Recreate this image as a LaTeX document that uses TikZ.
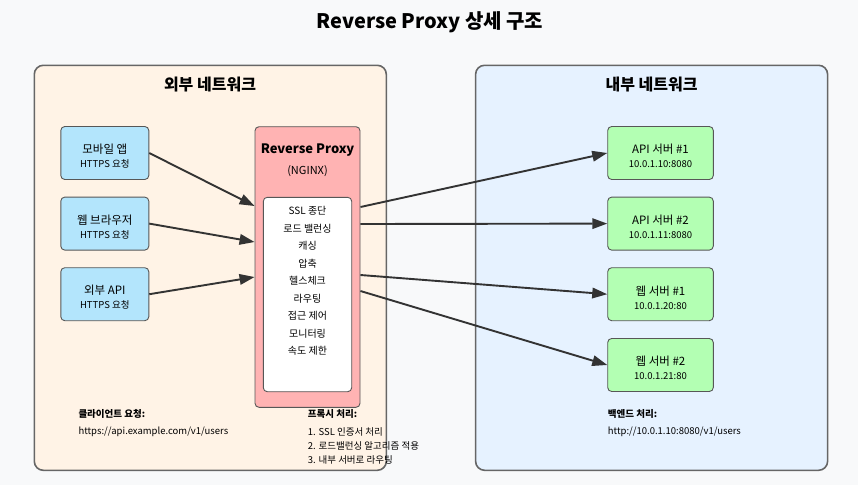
\documentclass[tikz,border=0pt]{standalone}
\usepackage{fontspec}
\setmainfont{Noto Sans CJK KR}
\usetikzlibrary{arrows.meta}
\definecolor{bgc}{HTML}{F8F9FA}
\definecolor{extc}{HTML}{FFF3E6}
\definecolor{intc}{HTML}{E6F2FF}
\definecolor{cliec}{HTML}{B3E5FC}
\definecolor{proxc}{HTML}{FFB3B3}
\definecolor{servc}{HTML}{B3FFB3}
\definecolor{edgec}{HTML}{666666}
\definecolor{arrc}{HTML}{333333}

\begin{document}
\begin{tikzpicture}[x=1pt,y=-1pt,
  zone/.style={draw=edgec,line width=1.6pt,rounded corners=9pt,minimum width=352pt,minimum height=405pt,inner sep=0pt},
  box/.style={draw=edgec!85!black,line width=0.9pt,rounded corners=4pt,minimum width=88pt,minimum height=53pt,align=center,inner sep=0pt,text height=30pt,font=\fontsize{11.5}{14}\selectfont},
  arr/.style={draw=arrc,line width=1.9pt,-{Triangle[length=15pt,width=10.5pt]}},
  note/.style={anchor=west,inner sep=0pt,font=\fontsize{9.5}{11}\selectfont}]
\useasboundingbox[fill=bgc] (0,0) rectangle (858,485);

\node[font=\fontsize{20}{24}\selectfont\bfseries] (title) at (430,22) {Reverse Proxy 상세 구조};

\node[zone,fill=extc] (ext) at (210.3,267.8) {};
\node[zone,fill=intc] (int) at (651.6,267.8) {};
\node[font=\fontsize{16}{19}\selectfont\bfseries] (exth) at (210,85) {외부 네트워크};
\node[font=\fontsize{16}{19}\selectfont\bfseries] (inth) at (651.6,85) {내부 네트워크};

\node[box,fill=cliec] (c1) at (104.8,153) {모바일 앱\\{\fontsize{9.5}{11}\selectfont HTTPS 요청}};
\node[box,fill=cliec] (c2) at (104.8,223.6) {웹 브라우저\\{\fontsize{9.5}{11}\selectfont HTTPS 요청}};
\node[box,fill=cliec] (c3) at (104.8,294.2) {외부 API\\{\fontsize{9.5}{11}\selectfont HTTPS 요청}};

\node[draw=edgec!85!black,line width=0.9pt,rounded corners=4pt,fill=proxc,minimum width=105pt,minimum height=280.6pt] (proxy) at (307.5,267) {};
\node[font=\fontsize{13}{15}\selectfont\bfseries] (ptitle) at (307.5,149.8) {Reverse Proxy};
\node[font=\fontsize{11}{13}\selectfont] (pname) at (307.5,171.5) {(NGINX)};
\node[draw=edgec!85!black,line width=0.9pt,rounded corners=4pt,fill=white,minimum width=88.4pt,minimum height=194.4pt] (feat) at (307.5,294.5) {};
\foreach \t [count=\i] in {SSL 종단,로드 밸런싱,캐싱,압축,헬스체크,라우팅,접근 제어,모니터링,속도 제한}
  \node[font=\fontsize{10}{12}\selectfont] (f\i) at (307.5,193.5+17.5*\i) {\t};

\node[box,fill=servc,minimum width=105.6pt] (s1) at (660.5,153) {API 서버 \#1\\{\fontsize{9.5}{11}\selectfont 10.0.1.10:8080}};
\node[box,fill=servc,minimum width=105.6pt] (s2) at (660.5,223.6) {API 서버 \#2\\{\fontsize{9.5}{11}\selectfont 10.0.1.11:8080}};
\node[box,fill=servc,minimum width=105.6pt] (s3) at (660.5,294.2) {웹 서버 \#1\\{\fontsize{9.5}{11}\selectfont 10.0.1.20:80}};
\node[box,fill=servc,minimum width=105.6pt] (s4) at (660.5,365) {웹 서버 \#2\\{\fontsize{9.5}{11}\selectfont 10.0.1.21:80}};

\draw[arr] (c1.east) -- ([yshift=61pt]proxy.west);
\draw[arr] (c2.east) -- ([yshift=25pt]proxy.west);
\draw[arr] (c3.east) -- ([yshift=-10pt]proxy.west);
\draw[arr] ([yshift=60pt]proxy.east) -- (s1.west);
\draw[arr] ([yshift=43pt]proxy.east) -- (s2.west);
\draw[arr] ([yshift=-8pt]proxy.east) -- (s3.west);
\draw[arr] ([yshift=-24pt]proxy.east) -- (s4.west);

\node[note,font=\fontsize{9.5}{11}\selectfont\bfseries] (creq) at (78.3,414.3) {클라이언트 요청:};
\node[note] (curl) at (78.3,431.7) {https://api.example.com/v1/users};
\node[note,font=\fontsize{9.5}{11}\selectfont\bfseries] (preq) at (307.7,414.3) {프록시 처리:};
\node[note] (p1) at (307.7,431.7) {1. SSL 인증서 처리};
\node[note] (p2) at (307.7,445.7) {2. 로드밸런싱 알고리즘 적용};
\node[note] (p3) at (307.7,459.7) {3. 내부 서버로 라우팅};
\node[note,font=\fontsize{9.5}{11}\selectfont\bfseries] (breq) at (607.7,414.3) {백엔드 처리:};
\node[note] (burl) at (607.7,431.7) {http://10.0.1.10:8080/v1/users};
\end{tikzpicture}
\end{document}
